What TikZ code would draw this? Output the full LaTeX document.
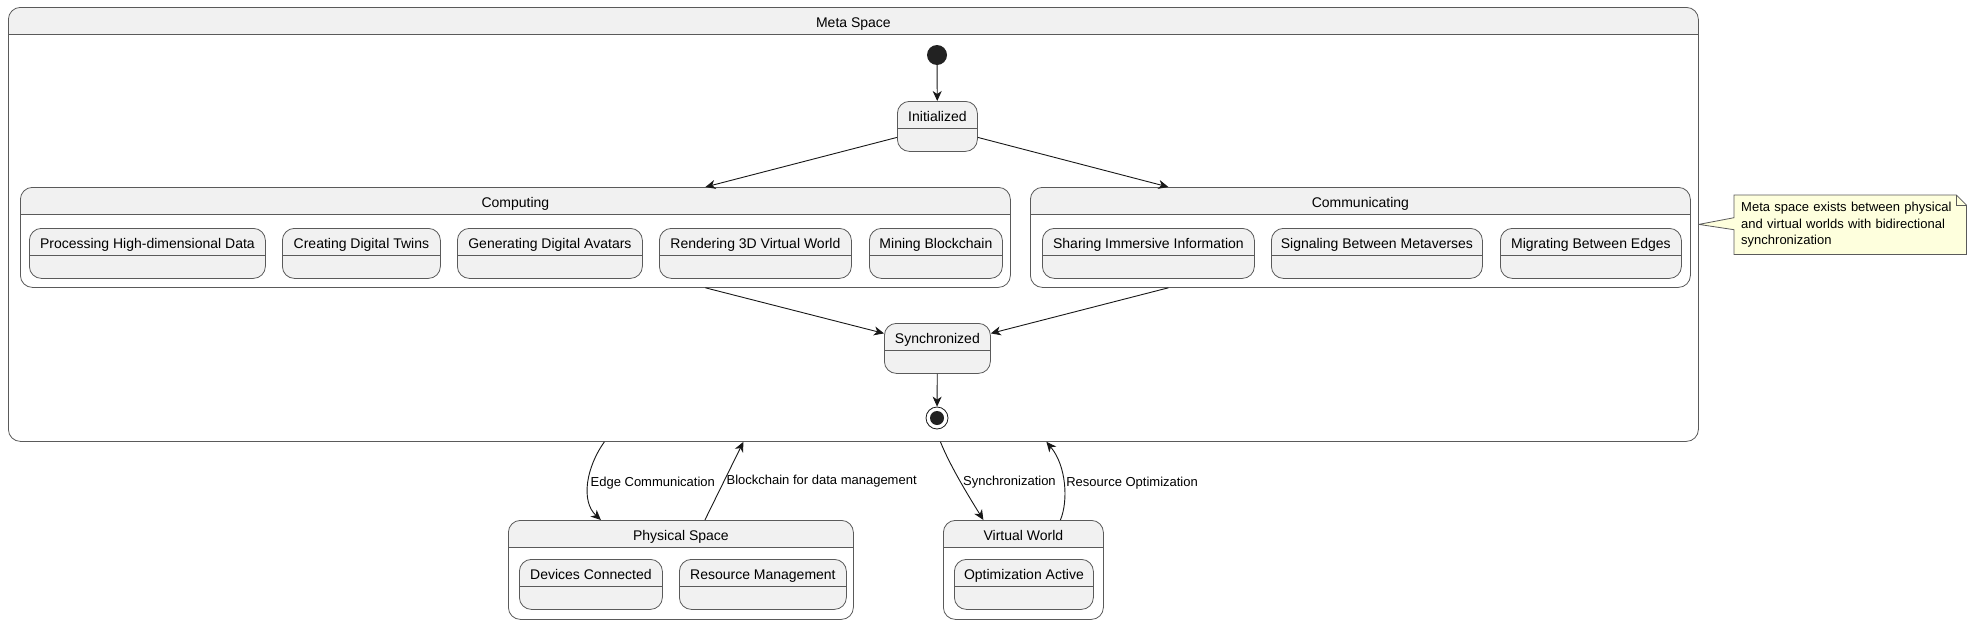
\documentclass[tikz,border=0pt]{standalone}
\usepackage{fontspec}
\setmainfont{Liberation Sans}
\usepackage{xcolor}
\usepackage{tikz}
\usetikzlibrary{arrows.meta, positioning, backgrounds}
\definecolor{statefill}{HTML}{F1F1F1}
\definecolor{boxline}{HTML}{5A5A5A}
\definecolor{edgedark}{HTML}{181818}
\definecolor{notefill}{HTML}{FEFFDD}
\definecolor{dotfill}{HTML}{222222}
\newcommand{\statefont}{\fontsize{14}{16}\selectfont}
\newcommand{\edgefont}{\fontsize{13}{15}\selectfont}
\newcommand{\notefont}{\fontsize{13}{16.5}\selectfont}
\tikzset{
  header/.style={path picture={
    \fill[statefill, sharp corners] (path picture bounding box.north west)
      rectangle ([yshift=-#1]path picture bounding box.north east);
    \draw[boxline, line width=0.8pt, sharp corners]
      ([yshift=-#1]path picture bounding box.north west) --
      ([yshift=-#1]path picture bounding box.north east);
  }},
  title/.style={label={[anchor=base, yshift=-20pt, font=\statefont, inner sep=0pt]north:#1}},
  statebox/.style={
    rectangle, rounded corners=12pt, draw=boxline, line width=0.8pt,
    fill=statefill, inner sep=0pt, anchor=north west,
    minimum height=50pt, header=27pt
  },
  compbox/.style={statebox, fill=white},
  startdot/.style={circle, fill=dotfill, minimum size=20pt, inner sep=0pt},
  stopdot/.style={circle, draw=edgedark, line width=0.8pt, fill=white,
    minimum size=22pt, inner sep=0pt,
    path picture={\fill[dotfill] (path picture bounding box.center) circle (7pt);}},
  trans/.style={-{Stealth[length=10pt, width=9pt, inset=3pt]}, line width=0.9pt, draw=edgedark},
  edgelabel/.style={font=\edgefont, inner sep=2pt, right, text=black},
  notebox/.style={text width=218pt, inner xsep=7pt, inner ysep=0pt,
    minimum height=59pt, align=left, anchor=north west, font=\notefont},
  noteline/.style={draw=boxline, line width=0.8pt, fill=notefill},
}

\begin{document}
\begin{tikzpicture}[x=1pt, y=-1pt]
  \useasboundingbox (0,0) rectangle (1971,624);

  \node[compbox, minimum width=1690pt, minimum height=434pt, title=Meta Space] (meta) at (8,7) {};
  \node[startdot] (start) at (937,55) {};
  \node[statebox, minimum width=80pt, title=Initialized] (init) at (897,101) {};

  \node[compbox, minimum width=990pt, minimum height=100pt, title=Computing] (comp) at (20,187) {};
  \node[statebox, minimum width=236pt, title=Processing High-dimensional Data] (proc) at (29,228) {};
  \node[statebox, minimum width=158pt, title=Creating Digital Twins] (twin) at (282,228) {};
  \node[statebox, minimum width=185pt, title=Generating Digital Avatars] (avat) at (457,228) {};
  \node[statebox, minimum width=192pt, title=Rendering 3D Virtual World] (rend) at (659,228) {};
  \node[statebox, minimum width=133pt, title=Mining Blockchain] (mine) at (869,228) {};

  \node[compbox, minimum width=660pt, minimum height=100pt, title=Communicating] (comm) at (1030,187) {};
  \node[statebox, minimum width=212pt, title=Sharing Immersive Information] (share) at (1042,228) {};
  \node[statebox, minimum width=211pt, title=Signaling Between Metaverses] (signal) at (1271,228) {};
  \node[statebox, minimum width=181pt, title=Migrating Between Edges] (migr) at (1500,228) {};

  \node[statebox, minimum width=106pt, title=Synchronized] (sync) at (884,323) {};
  \node[stopdot] (stop) at (937,418) {};

  \node[compbox, minimum width=345pt, minimum height=99pt, title=Physical Space] (phys) at (508,520) {};
  \node[statebox, minimum width=143pt, title=Devices Connected] (dev) at (519,559) {};
  \node[statebox, minimum width=167pt, title=Resource Management] (resm) at (679,559) {};

  \node[compbox, minimum width=160pt, minimum height=99pt, title=Virtual World] (virt) at (943,520) {};
  \node[statebox, minimum width=139pt, title=Optimization Active] (opt) at (954,559) {};

  \node[notebox] (note) at (1734,195)
    {Meta space exists between physical\\and virtual worlds with bidirectional\\synchronization};
  \begin{scope}[on background layer]
    \draw[noteline] (note.north west) -- ([xshift=-10pt]note.north east)
      -- ([yshift=-10pt]note.north east) -- (note.south east) -- (note.south west)
      -- ([yshift=-5pt]note.west) -- (meta.east) -- ([yshift=7pt]note.west) -- cycle;
    \draw[noteline, fill=none] ([xshift=-10pt]note.north east)
      -- ([xshift=-10pt, yshift=-10pt]note.north east) -- ([yshift=-10pt]note.north east);
  \end{scope}

  \draw[trans] (start) -- (init);
  \draw[trans] ([yshift=-11pt]init.west) -- ([xshift=190pt]comp.north);
  \draw[trans] ([yshift=-11pt]init.east) -- ([xshift=-192pt]comm.north);
  \draw[trans] ([xshift=190pt]comp.south) -- ([yshift=15pt]sync.west);
  \draw[trans] ([xshift=-192pt]comm.south) -- ([yshift=15pt]sync.east);
  \draw[trans] (sync) -- (stop);

  \draw[trans] ([xshift=-249pt]meta.south) .. controls +(-18,25) and +(-20.5,-19) ..
    ([xshift=-80pt]phys.north) node[midway, edgelabel] {Edge Communication};
  \draw[trans] ([xshift=24pt]phys.north) -- ([xshift=-110pt]meta.south)
    node[midway, edgelabel] {Blockchain for data management};
  \draw[trans] ([xshift=87pt]meta.south) .. controls +(10,25) and +(-13,-21) ..
    ([xshift=-40pt]virt.north) node[midway, edgelabel] {Synchronization};
  \draw[trans] ([xshift=37pt]virt.north) .. controls +(8,-19) and +(20,24) ..
    ([xshift=193pt]meta.south) node[midway, edgelabel] {Resource Optimization};

\end{tikzpicture}
\end{document}
